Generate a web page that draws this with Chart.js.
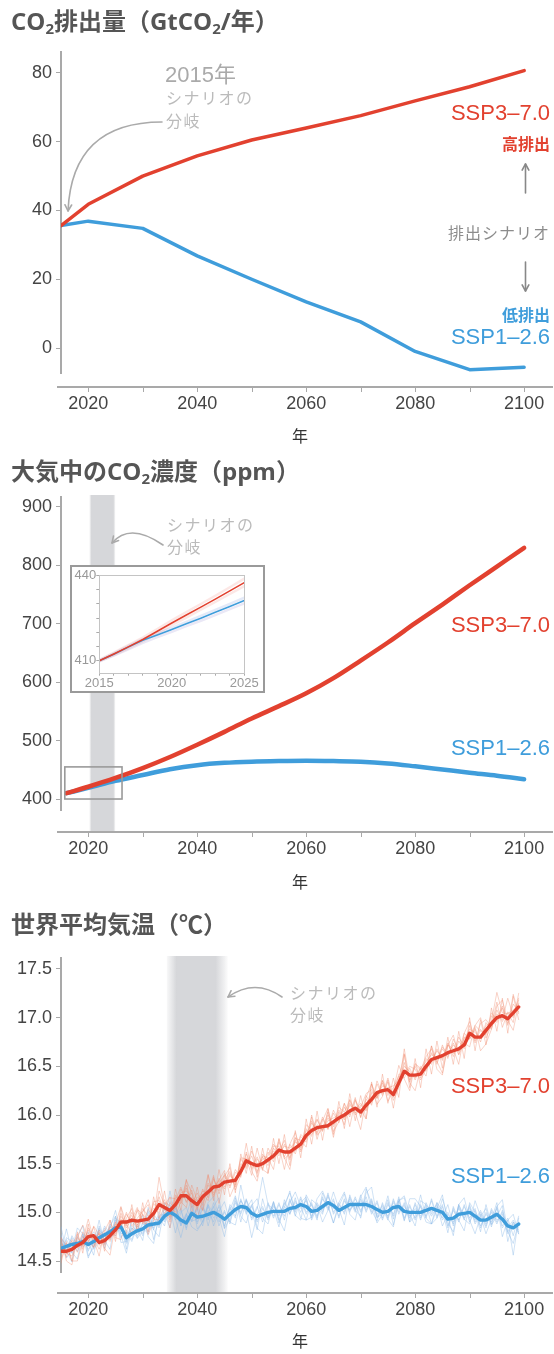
<!DOCTYPE html>
<html><head><meta charset="utf-8">
<script src="https://cdn.jsdelivr.net/npm/chart.js@4.4.1/dist/chart.umd.min.js"></script>
<style>
html,body{margin:0;padding:0;background:#fff;}
#wrap{position:relative;width:554px;height:1354px;overflow:hidden;background:#fff;}
canvas.main{position:absolute;left:0;}
.t{position:absolute;white-space:nowrap;line-height:1;font-family:"Liberation Sans","Noto Sans CJK JP",sans-serif;}
.jp{font-family:"Noto Sans CJK JP",sans-serif;}
.title{font-family:"Open Sans","Noto Sans CJK JP",sans-serif;font-weight:700;font-size:24px;color:#555;left:11px;}
.title sub{font-size:15px;line-height:0;vertical-align:-4px;}
#insetBox{position:absolute;left:70px;top:565px;width:191px;height:124px;border:2px solid #9a9a9a;background:#fff;}
#insetBox canvas{display:block;}
</style>
</head><body>
<div id="wrap">
  <canvas id="c1" class="main" width="554" height="450" style="top:0;width:554px;height:450px"></canvas>
  <canvas id="c2" class="main" width="554" height="450" style="top:450px;width:554px;height:450px"></canvas>
  <canvas id="c3" class="main" width="554" height="454" style="top:900px;width:554px;height:454px"></canvas>
  <div id="insetBox"><canvas id="c2i" width="191" height="124" style="width:191px;height:124px"></canvas></div>

  <div class="t title" style="top:9px">CO<sub>2</sub>排出量（GtCO<sub>2</sub>/年）</div>
  <div class="t title" style="top:459px">大気中のCO<sub>2</sub>濃度（ppm）</div>
  <div class="t title" style="top:912px">世界平均気温（℃）</div>

  <div class="t" style="left:165px;top:64px;font-size:22px;color:#aaa">2015年</div>
  <div class="t jp" style="left:166px;top:89px;font-size:16px;color:#bbb;letter-spacing:1.5px">シナリオの</div>
  <div class="t jp" style="left:166px;top:112px;font-size:16px;color:#bbb;letter-spacing:1.5px">分岐</div>
  <div class="t" style="right:4px;top:102px;font-size:22px;color:#e2412f">SSP3–7.0</div>
  <div class="t jp" style="right:4px;top:135px;font-size:16px;font-weight:700;color:#e2412f">高排出</div>
  <div class="t jp" style="right:4px;top:224px;font-size:16px;color:#8c8c8c;letter-spacing:1px">排出シナリオ</div>
  <div class="t jp" style="right:4px;top:306px;font-size:16px;font-weight:700;color:#3f9ddb">低排出</div>
  <div class="t" style="right:4px;top:326px;font-size:22px;color:#3f9ddb">SSP1–2.6</div>
  <div class="t jp" style="left:292px;top:427px;font-size:16px;color:#333">年</div>

  <div class="t jp" style="left:167px;top:516px;font-size:16px;color:#bbb;letter-spacing:1.5px">シナリオの</div>
  <div class="t jp" style="left:167px;top:538px;font-size:16px;color:#bbb;letter-spacing:1.5px">分岐</div>
  <div class="t" style="right:4px;top:614px;font-size:22px;color:#e2412f">SSP3–7.0</div>
  <div class="t" style="right:4px;top:737px;font-size:22px;color:#3f9ddb">SSP1–2.6</div>
  <div class="t jp" style="left:292px;top:873px;font-size:16px;color:#333">年</div>

  <div class="t jp" style="left:290px;top:984px;font-size:16px;color:#bbb;letter-spacing:1.5px">シナリオの</div>
  <div class="t jp" style="left:290px;top:1006px;font-size:16px;color:#bbb;letter-spacing:1.5px">分岐</div>
  <div class="t" style="right:4px;top:1075px;font-size:22px;color:#e2412f">SSP3–7.0</div>
  <div class="t" style="right:4px;top:1165px;font-size:22px;color:#3f9ddb">SSP1–2.6</div>
  <div class="t jp" style="left:292px;top:1332px;font-size:16px;color:#333">年</div>
</div>
<script>
// ---------- shared axis data ----------
const X_TICKS = [2020, 2030, 2040, 2050, 2060, 2070, 2080, 2090, 2100];
const X_LABELS = [2020, 2040, 2060, 2080, 2100];

// ---------- Panel 1: CO2 emissions (GtCO2/yr) ----------
const EMIS_YEARS = [2015, 2020, 2030, 2040, 2050, 2060, 2070, 2080, 2090, 2100];
const EMIS_SSP370 = [35.6, 41.8, 50.0, 55.9, 60.5, 64.0, 67.6, 71.9, 76.0, 80.7];
const EMIS_SSP126 = [35.6, 36.9, 34.8, 26.8, 20.0, 13.4, 7.6, -1.0, -6.3, -5.6];
const EMIS_Y_TICKS = [0, 20, 40, 60, 80];

// ---------- Panel 2: CO2 concentration (ppm) ----------
const CONC_YEARS = [2016, 2020, 2025, 2030, 2035, 2040, 2045, 2050, 2055, 2060, 2065, 2070, 2075, 2080, 2085, 2090, 2095, 2100];
const CONC_SSP370 = [410, 421, 436, 453, 472, 493, 515, 538, 559, 581, 607, 637, 668, 701, 733, 766, 798, 830];
const CONC_SSP126 = [410, 419, 431, 441, 451, 458, 462, 464, 465, 465.5, 465, 464, 461, 456, 450.5, 445, 440, 434];
const CONC_Y_TICKS = [400, 500, 600, 700, 800, 900];

// inset 2015-2025
const INSET_YEARS = [2015, 2016, 2017, 2018, 2019, 2020, 2021, 2022, 2023, 2024, 2025];
const INSET_SSP370 = [410.0, 412.4, 414.9, 417.5, 420.4, 423.3, 426.1, 428.9, 431.7, 434.6, 437.5];
const INSET_SSP126 = [410.0, 412.3, 414.8, 417.2, 419.1, 421.0, 423.0, 425.0, 427.1, 429.1, 431.2];
const INSET_SSP370_HI = [410.3, 412.9, 415.5, 418.2, 421.2, 424.2, 427.1, 430.0, 432.9, 435.9, 438.9];
const INSET_SSP370_LO = [409.8, 412.0, 414.4, 416.9, 419.7, 422.5, 425.2, 428.0, 430.7, 433.5, 436.3];
const INSET_SSP126_HI = [410.2, 412.6, 415.2, 417.6, 419.6, 421.6, 423.7, 425.8, 427.9, 430.0, 432.2];
const INSET_SSP126_LO = [409.8, 411.8, 414.0, 416.3, 418.3, 420.2, 422.2, 424.1, 426.1, 428.2, 430.2];
const INSET_Y_TICKS = [410, 415, 420, 425, 430, 435, 440];
const INSET_Y_LABELS = [410, 440];
const INSET_X_TICKS = [2015, 2016, 2017, 2018, 2019, 2020, 2021, 2022, 2023, 2024, 2025];
const INSET_X_LABELS = [2015, 2020, 2025];

// ---------- Panel 3: global mean temperature (°C) ----------
const TEMP_YEARS = [2015,2016,2017,2018,2019,2020,2021,2022,2023,2024,2025,2026,2027,2028,2029,2030,2031,2032,2033,2034,
2035,2036,2037,2038,2039,2040,2041,2042,2043,2044,2045,2046,2047,2048,2049,2050,2051,2052,2053,2054,
2055,2056,2057,2058,2059,2060,2061,2062,2063,2064,2065,2066,2067,2068,2069,2070,2071,2072,2073,2074,
2075,2076,2077,2078,2079,2080,2081,2082,2083,2084,2085,2086,2087,2088,2089,2090,2091,2092,2093,2094,
2095,2096,2097,2098,2099];
const TEMP_SSP370 = [14.60,14.60,14.62,14.66,14.69,14.75,14.76,14.69,14.71,14.76,
14.82,14.90,14.90,14.92,14.91,14.92,14.93,14.99,15.08,15.05,
15.02,15.08,15.17,15.17,15.12,15.08,15.16,15.21,15.26,15.27,
15.31,15.32,15.33,15.42,15.53,15.50,15.48,15.50,15.54,15.58,
15.64,15.62,15.62,15.66,15.70,15.79,15.84,15.87,15.88,15.89,
15.93,15.97,16.00,16.04,16.07,16.03,16.10,16.16,16.23,16.25,
16.26,16.21,16.33,16.45,16.41,16.41,16.42,16.50,16.57,16.59,
16.61,16.64,16.66,16.68,16.72,16.84,16.80,16.80,16.87,16.94,
17.00,17.02,16.99,17.05,17.11];
const TEMP_SSP126 = [14.63,14.65,14.67,14.68,14.70,14.67,14.70,14.74,14.77,14.80,
14.84,14.85,14.74,14.78,14.81,14.83,14.87,14.88,14.89,14.96,
15.00,14.97,14.92,14.89,14.99,14.95,14.96,14.98,15.00,14.97,
14.93,14.98,15.03,15.06,15.05,14.99,14.96,14.98,15.00,15.01,
15.01,15.01,15.04,15.05,15.08,15.06,15.01,15.02,15.06,15.10,
15.07,15.02,15.05,15.08,15.08,15.08,15.08,15.06,15.03,15.00,
15.01,15.05,15.06,15.01,15.00,15.00,15.00,15.02,15.04,15.02,
15.00,14.93,14.94,14.98,14.99,15.00,14.96,14.92,14.92,14.95,
14.98,14.93,14.86,14.84,14.88];
// individual model runs (thin lines)
const TEMP_SSP370_RUN1 = [14.55,14.68,14.60,14.74,14.65,14.82,14.71,14.78,14.66,14.85,
14.78,14.96,14.86,15.00,14.87,14.98,14.90,15.09,15.02,15.13,
14.96,15.16,15.12,15.25,15.05,15.16,15.10,15.30,15.20,15.35,
15.26,15.40,15.28,15.50,15.47,15.58,15.42,15.57,15.48,15.66,
15.58,15.70,15.56,15.74,15.64,15.86,15.78,15.95,15.83,15.97,
15.88,16.05,15.95,16.12,16.02,16.10,16.05,16.24,16.18,16.33,
16.20,16.28,16.40,16.38,16.48,16.36,16.50,16.45,16.64,16.54,
16.68,16.60,16.74,16.62,16.80,16.78,16.88,16.75,16.95,16.88,
17.08,16.96,17.06,17.00,17.18];
const TEMP_SSP370_RUN2 = [14.66,14.54,14.72,14.63,14.80,14.70,14.85,14.66,14.79,14.72,
14.90,14.84,14.98,14.89,15.02,14.88,15.03,14.95,15.16,14.98,
15.10,15.03,15.24,15.11,15.20,15.02,15.24,15.15,15.34,15.22,
15.40,15.27,15.44,15.36,15.62,15.44,15.55,15.45,15.62,15.52,
15.72,15.57,15.70,15.60,15.78,15.72,15.92,15.82,15.96,15.85,
16.02,15.92,16.08,15.98,16.16,15.97,16.20,16.10,16.32,16.20,
16.34,16.15,16.28,16.68,16.36,16.50,16.38,16.58,16.52,16.68,
16.56,16.74,16.60,16.76,16.68,16.92,16.74,16.88,16.82,17.02,
16.95,17.10,16.94,17.14,17.06];
const TEMP_SSP370_RUN3 = [14.62,14.58,14.55,14.70,14.66,14.84,14.74,14.62,14.76,14.70,
14.86,14.93,14.88,14.97,14.85,15.04,14.96,15.04,15.00,15.10,
15.07,15.00,15.20,15.22,15.15,15.12,15.22,15.18,15.25,15.33,
15.24,15.38,15.30,15.47,15.56,15.52,15.40,15.60,15.51,15.63,
15.60,15.68,15.66,15.72,15.69,15.84,15.80,15.90,15.85,15.94,
15.97,16.00,15.97,16.10,16.05,16.12,16.04,16.22,16.20,16.30,
16.28,16.30,16.36,16.50,16.45,16.38,16.48,16.55,16.62,16.57,
16.70,16.62,16.72,16.65,16.78,16.88,16.85,16.78,16.92,16.96,
17.26,17.05,17.04,17.08,17.14];
const TEMP_SSP370_RUN4 = [14.52,14.66,14.70,14.59,14.75,14.68,14.86,14.77,14.68,14.83,
14.76,14.99,14.84,14.93,15.05,14.90,14.87,15.11,15.12,15.02,
15.15,15.14,15.09,15.28,15.08,15.20,15.07,15.28,15.18,15.30,
15.38,15.25,15.41,15.38,15.60,15.46,15.57,15.43,15.66,15.55,
15.75,15.55,15.60,15.63,15.80,15.75,15.94,15.80,15.98,15.86,
16.05,15.94,16.12,16.00,16.18,15.98,16.16,16.12,16.35,16.22,
16.38,16.18,16.42,16.42,16.50,16.47,16.36,16.47,16.55,16.66,
16.58,16.72,16.63,16.80,16.70,16.80,16.92,16.86,16.84,17.05,
16.98,17.12,16.92,17.24,17.04];
const TEMP_SSP370_RUN5 = [14.70,14.57,14.64,14.78,14.62,14.79,14.70,14.74,14.82,14.75,
14.88,14.85,15.00,14.86,14.94,15.01,15.08,14.93,15.36,15.06,
14.95,15.12,15.26,15.10,15.23,15.04,15.19,15.12,15.36,15.19,
15.33,15.42,15.26,15.55,15.45,15.63,15.50,15.54,15.58,15.70,
15.62,15.74,15.54,15.77,15.66,15.90,15.85,15.96,15.84,16.00,
15.90,16.08,16.03,16.15,16.00,16.08,16.22,16.26,16.17,16.36,
16.22,16.25,16.30,16.54,16.34,16.52,16.46,16.60,16.68,16.52,
16.72,16.58,16.78,16.66,16.84,16.96,16.76,16.94,16.98,16.90,
17.04,16.98,17.20,17.02,17.20];
const TEMP_SSP370_RUN6 = [14.48,14.70,14.50,14.80,14.58,14.88,14.64,14.82,14.60,14.92,
14.70,15.05,14.78,15.08,14.80,15.10,14.80,15.16,14.94,15.22,
14.90,15.24,15.02,15.34,14.98,15.26,15.02,15.38,15.12,15.44,
15.18,15.50,15.20,15.60,15.40,15.68,15.36,15.66,15.40,15.76,
15.50,15.80,15.48,15.84,15.56,15.96,15.70,16.04,15.74,16.06,
15.80,16.14,15.86,16.22,15.94,16.20,15.96,16.34,16.08,16.42,
16.12,16.38,16.18,16.62,16.28,16.58,16.28,16.68,16.42,16.76,
16.48,16.80,16.52,16.86,16.58,17.00,16.66,16.98,16.72,17.10,
16.86,17.20,16.84,17.22,16.98];
const TEMP_SSP370_RUN7 = [14.74,14.50,14.46,14.74,14.87,14.71,14.64,14.79,14.63,14.56,
14.88,15.06,14.88,14.78,15.03,14.98,14.77,14.91,15.22,15.07,
14.84,15.18,15.11,15.05,15.28,15.12,15.02,15.19,15.38,15.09,
15.37,15.46,15.23,15.38,15.71,15.42,15.32,15.58,15.56,15.44,
15.76,15.56,15.44,15.76,15.74,15.67,16.00,15.79,15.86,16.03,
15.77,16.03,15.90,16.16,16.03,15.85,16.18,16.32,16.11,16.19,
16.36,16.07,16.37,16.63,16.33,16.25,16.48,16.48,16.71,16.47,
16.41,16.72,16.68,16.52,16.84,16.78,16.90,16.66,16.73,16.88,
17.12,17.18,16.97,16.87,17.15];
const TEMP_SSP370_RUN8 = [14.74,14.66,14.50,14.50,14.71,14.93,14.72,14.55,14.81,14.92,
14.74,14.72,14.94,15.04,14.81,15.00,15.13,14.93,14.92,15.07,
15.16,14.96,15.11,15.33,15.20,14.94,15.14,15.39,15.16,15.33,
15.43,15.16,15.29,15.56,15.55,15.38,15.66,15.44,15.40,15.68,
15.68,15.44,15.70,15.82,15.62,15.77,15.98,15.75,15.94,16.07,
15.83,15.93,16.12,15.88,16.15,16.05,15.96,16.32,16.17,16.35,
16.14,16.25,16.51,16.37,16.25,16.53,16.48,16.40,16.71,16.55,
16.43,16.72,16.82,16.62,16.74,16.70,16.92,17.00,16.79,16.92,
17.16,16.90,17.05,16.95,17.25];
const TEMP_SSP126_RUN1 = [14.58,14.72,14.62,14.75,14.66,14.74,14.64,14.80,14.72,14.86,
14.80,14.88,14.70,14.84,14.76,14.90,14.80,14.95,14.84,15.04,
14.94,15.06,14.88,14.96,14.92,15.04,14.90,15.06,14.94,15.06,
14.86,15.06,14.96,15.14,14.98,15.08,14.90,15.04,14.94,15.08,
14.96,15.10,14.98,15.12,15.00,15.14,14.94,15.10,15.00,15.18,
15.00,15.10,14.98,15.16,15.02,15.14,15.02,15.12,14.96,15.08,
14.94,15.12,15.00,15.08,14.94,15.08,14.92,15.10,14.98,15.10,
14.92,15.00,14.88,15.06,14.92,15.08,14.90,15.00,14.86,15.02,
14.90,15.00,14.80,14.90,14.82];
const TEMP_SSP126_RUN2 = [14.85,14.60,14.74,14.64,14.78,14.60,14.76,14.68,14.84,14.74,
14.92,14.74,14.82,14.72,14.88,14.78,14.92,14.84,15.00,14.90,
15.08,14.92,15.02,14.84,15.06,14.88,15.04,14.92,15.10,14.90,
15.00,14.90,15.12,15.00,15.12,14.92,15.04,15.36,15.08,14.94,
15.08,14.96,15.12,15.00,15.16,15.00,15.08,14.96,15.14,15.04,
15.14,14.94,15.12,15.02,15.16,15.00,15.16,14.98,15.10,14.92,
15.08,14.98,15.14,14.94,15.08,14.92,15.08,14.96,15.12,14.94,
15.06,14.86,15.02,14.92,15.06,14.94,15.04,14.84,15.00,14.88,
15.06,14.86,14.94,14.76,14.96];
const TEMP_SSP126_RUN3 = [14.66,14.68,14.58,14.72,14.64,14.70,14.80,14.72,14.70,14.88,
14.82,14.86,14.68,14.80,14.74,14.88,14.84,14.92,14.86,15.10,
14.98,15.04,14.90,14.94,14.96,15.02,14.86,15.08,14.98,15.02,
14.84,15.08,15.00,15.12,15.00,15.06,14.92,15.00,14.96,15.10,
14.92,15.06,15.00,15.10,15.04,15.12,14.96,15.08,15.02,15.16,
15.04,15.06,15.00,15.14,15.04,15.12,15.04,15.10,14.98,15.06,
14.96,15.10,15.02,15.06,14.96,15.04,14.96,15.08,15.00,15.08,
14.86,14.98,14.90,15.04,14.94,15.06,14.88,14.98,14.84,15.04,
14.92,14.98,14.78,14.88,14.84];
const TEMP_SSP126_RUN4 = [14.55,14.74,14.70,14.60,14.76,14.62,14.68,14.82,14.76,14.72,
14.96,14.78,14.80,14.70,14.86,14.76,14.94,14.82,14.96,14.92,
15.22,14.96,15.04,14.82,15.08,14.90,15.06,14.94,15.06,14.86,
15.02,14.88,15.10,14.98,15.14,14.94,15.06,14.90,15.10,14.96,
15.10,14.92,15.14,14.96,15.14,14.98,15.10,14.94,15.16,15.02,
15.12,14.96,15.14,15.00,15.14,15.02,15.12,15.00,15.12,14.94,
15.10,14.96,15.16,14.92,15.06,14.94,15.06,14.94,15.14,14.96,
15.08,14.84,15.04,14.90,15.08,14.90,15.02,14.86,14.98,14.90,
15.04,14.84,14.92,14.56,14.94];
const TEMP_SSP126_RUN5 = [14.70,14.58,14.76,14.66,14.72,14.80,14.62,14.70,14.86,14.78,
14.76,14.90,14.72,14.86,14.80,14.84,14.78,14.98,14.90,15.00,
14.92,15.08,14.86,14.98,14.90,15.06,14.94,15.02,14.90,15.08,
14.92,15.04,14.94,15.28,15.02,14.74,14.98,15.06,14.92,15.06,
14.98,15.08,15.20,15.02,15.10,15.16,14.92,15.06,14.98,15.20,
14.98,15.08,15.02,15.12,15.00,15.18,15.00,15.14,14.94,15.04,
14.92,15.14,14.98,15.10,14.90,15.10,14.94,15.06,14.96,15.06,
14.94,15.08,14.86,15.08,14.96,15.04,14.92,15.02,14.88,15.00,
14.88,15.02,14.84,14.92,14.80];
const TEMP_SSP126_RUN6 = [14.77,14.53,14.61,14.84,14.78,14.53,14.68,14.92,14.67,14.86,
14.96,14.69,14.70,14.92,14.83,14.71,15.05,14.82,14.75,15.06,
15.04,14.79,15.00,15.05,14.91,14.93,15.10,14.86,15.06,15.15,
14.83,14.94,15.15,14.90,15.13,15.01,14.82,15.14,14.94,15.11,
14.89,15.05,15.22,14.97,14.92,15.18,15.07,14.92,15.20,15.06,
14.89,15.10,15.21,15.02,15.10,14.94,15.20,15.26,14.95,14.98,
15.17,14.93,15.12,14.91,15.14,15.14,15.06,14.90,14.88,15.04,
15.18,14.89,14.80,15.08,15.15,14.92,14.78,14.96,15.04,14.85,
15.06,15.13,14.80,14.68,14.90];
const TEMP_SSP126_RUN7 = [14.59,14.83,14.59,14.52,14.78,14.69,14.56,14.86,14.71,14.62,
14.94,14.89,14.62,14.94,14.73,14.81,15.01,14.72,14.95,14.86,
15.12,14.93,14.74,14.97,15.15,14.83,14.90,15.08,14.86,15.01,
15.11,14.90,14.87,15.12,15.03,15.13,14.84,14.78,15.08,15.03,
14.85,15.13,14.98,15.15,14.94,14.92,14.95,15.14,15.22,15.08,
14.89,15.06,15.19,14.98,14.92,15.16,15.26,15.02,14.91,15.10,
14.93,14.85,15.12,15.17,14.98,14.86,15.12,15.08,14.88,14.94,
15.14,14.95,14.76,15.08,14.93,14.88,15.12,14.96,14.78,14.93,
15.10,14.75,14.92,14.98,14.78];
const TEMP_SSP126_RUN8 = [14.75,14.61,14.49,14.76,14.86,14.55,14.64,14.84,14.63,14.84,
15.02,14.77,14.58,14.84,14.79,14.97,14.75,14.68,14.97,14.98,
14.84,15.09,14.86,14.99,14.85,14.81,14.90,15.10,15.16,14.95,
14.75,15.02,15.17,14.96,14.89,15.07,15.14,14.94,14.88,15.11,
14.93,14.81,15.10,15.21,15.06,14.92,15.13,15.08,14.90,15.02,
15.21,15.04,14.87,15.18,15.02,14.96,15.24,15.10,14.89,14.98,
15.13,14.87,15.12,15.15,14.90,14.96,15.18,14.94,14.88,15.10,
15.02,14.79,15.06,14.92,14.81,15.10,15.00,14.80,15.08,14.87,
14.96,15.07,14.70,14.90,14.78];
const TEMP_Y_TICKS = [14.5, 15.0, 15.5, 16.0, 16.5, 17.0, 17.5];

// ---------- styling ----------
const RED = '#e2412f', BLUE = '#3f9ddb';
const RED_RUN = 'rgba(240,140,110,0.38)', BLUE_RUN = 'rgba(140,185,232,0.42)';
const TICK_FONT = '"Liberation Sans", Arial, sans-serif';
const X_MIN = 2015, X_MAX = 2105.3;
const AXIS_C = '#a9a9a9';

function pts(xs, ys) { return xs.map((x, i) => ({x: x, y: ys[i]})); }
function ds(xs, ys, color, width, order, extra) {
  return Object.assign({data: pts(xs, ys), borderColor: color, borderWidth: width, pointRadius: 0,
    fill: false, order: order, tension: 0, borderJoinStyle: 'round', borderCapStyle: 'round'}, extra || {});
}

function drawArrow(ctx, p0, c, p1, color) {
  ctx.save();
  ctx.strokeStyle = color; ctx.lineWidth = 1.6; ctx.lineCap = 'round'; ctx.lineJoin = 'round';
  ctx.beginPath(); ctx.moveTo(p0[0], p0[1]);
  if (c) ctx.quadraticCurveTo(c[0], c[1], p1[0], p1[1]); else ctx.lineTo(p1[0], p1[1]);
  ctx.stroke();
  const from = c || p0;
  const ang = Math.atan2(p1[1] - from[1], p1[0] - from[0]);
  const L = 7, w = 0.5;
  ctx.beginPath();
  ctx.moveTo(p1[0] - L * Math.cos(ang - w), p1[1] - L * Math.sin(ang - w));
  ctx.lineTo(p1[0], p1[1]);
  ctx.lineTo(p1[0] - L * Math.cos(ang + w), p1[1] - L * Math.sin(ang + w));
  ctx.stroke();
  ctx.restore();
}

const deco = {
  id: 'deco',
  beforeDatasetsDraw(chart, args, o) {
    if (!o || !o.band) return;
    const {ctx, chartArea: a, scales: {x}} = chart;
    const b = o.band;
    const x0 = x.getPixelForValue(b[0]), x1 = x.getPixelForValue(b[3]);
    const s0 = x.getPixelForValue(b[1]), s1 = x.getPixelForValue(b[2]);
    const g = ctx.createLinearGradient(x0, 0, x1, 0);
    const col = 'rgba(214,215,218,', W = x1 - x0;
    g.addColorStop(0, col + '0.15)');
    g.addColorStop((s0 - x0) / W, col + '1)');
    g.addColorStop((s1 - x0) / W, col + '1)');
    g.addColorStop(1, col + '0.1)');
    ctx.save(); ctx.fillStyle = g;
    ctx.fillRect(x0, a.top - 2, W, a.bottom + o.gap - a.top + 1);
    ctx.restore();
  },
  afterDraw(chart, args, o) {
    if (!o) return;
    const {ctx, chartArea: a, scales: {x, y}} = chart;
    const ly = a.bottom + o.gap;
    ctx.save();
    ctx.strokeStyle = AXIS_C; ctx.lineWidth = 2;
    ctx.beginPath(); ctx.moveTo(a.left - 4, ly); ctx.lineTo(a.right, ly); ctx.stroke();
    ctx.lineWidth = 1;
    X_TICKS.forEach(v => {
      const px = Math.round(x.getPixelForValue(v)) + 0.5;
      ctx.beginPath(); ctx.moveTo(px, ly); ctx.lineTo(px, ly + 5); ctx.stroke();
    });
    if (o.rect) {
      const r = o.rect;
      const rx0 = x.getPixelForValue(r[0]), rx1 = x.getPixelForValue(r[1]);
      const ry0 = y.getPixelForValue(r[3]), ry1 = y.getPixelForValue(r[2]);
      ctx.strokeStyle = '#9a9a9a'; ctx.lineWidth = 1.6;
      ctx.strokeRect(rx0, ry0, rx1 - rx0, ry1 - ry0);
    }
    ctx.restore();
    (o.arrows || []).forEach(ar => drawArrow(ctx, ar.p0, ar.c, ar.p1, ar.color || '#aaa'));
  }
};

function mainChart(id, cfg) {
  const canvas = document.getElementById(id);
  const H = canvas.height;
  return new Chart(canvas, {
    type: 'line',
    data: {datasets: cfg.datasets},
    options: {
      responsive: false, animation: false, devicePixelRatio: 1,
      layout: {padding: {top: cfg.top, right: 1, left: 0, bottom: 0}},
      plugins: {legend: {display: false}, tooltip: {enabled: false}, deco: cfg.deco},
      scales: {
        x: {
          type: 'linear', min: X_MIN, max: X_MAX,
          afterFit(s) { s.height = H - cfg.bottom; s.paddingLeft = 0; s.paddingRight = 0; },
          afterBuildTicks(s) { s.ticks = X_TICKS.map(v => ({value: v})); },
          grid: {display: false, drawTicks: false}, border: {display: false},
          ticks: {padding: cfg.deco.gap + 17 - 10.8, autoSkip: false, maxRotation: 0,
            font: {family: TICK_FONT, size: 18}, color: '#444',
            callback: v => X_LABELS.includes(v) ? String(v) : ''}
        },
        y: {
          type: 'linear', min: cfg.yMin, max: cfg.yMax,
          afterFit(s) { s.width = 61; s.paddingTop = 0; s.paddingBottom = 0; },
          afterBuildTicks(s) { s.ticks = cfg.yTicks.map(v => ({value: v})); },
          grid: {drawOnChartArea: false, drawTicks: true, tickLength: 5, color: AXIS_C, lineWidth: 1},
          border: {display: true, color: AXIS_C, width: 2},
          ticks: {padding: 4, autoSkip: false, font: {family: TICK_FONT, size: 18}, color: '#444',
            callback: cfg.yFmt || (v => String(v))}
        }
      }
    },
    plugins: [deco]
  });
}

// Panel 1
mainChart('c1', {
  top: 52, bottom: 373, yMin: -7.27, yMax: 86.1, yTicks: EMIS_Y_TICKS,
  datasets: [
    ds(EMIS_YEARS, EMIS_SSP370, RED, 3.5, 0),
    ds(EMIS_YEARS, EMIS_SSP126, BLUE, 3.5, 1)
  ],
  deco: {gap: 14, arrows: [
    {p0: [162, 122], c: [72, 122], p1: [68, 211], color: '#aaa'},
    {p0: [525.5, 193], c: null, p1: [525.5, 164], color: '#888'},
    {p0: [525.5, 262], c: null, p1: [525.5, 291], color: '#888'}
  ]}
});

// Panel 2
mainChart('c2', {
  top: 47, bottom: 360, yMin: 381.2, yMax: 917.1, yTicks: CONC_Y_TICKS,
  datasets: [
    ds(CONC_YEARS, CONC_SSP370, RED, 4.5, 0, {cubicInterpolationMode: 'monotone'}),
    ds(CONC_YEARS, CONC_SSP126, BLUE, 4.5, 1, {cubicInterpolationMode: 'monotone'})
  ],
  deco: {gap: 22, band: [2020.2, 2020.6, 2024.6, 2025.0], rect: [2015.7, 2026.2, 400, 455],
    arrows: [{p0: [163, 95], c: [130, 72], p1: [112, 93], color: '#aaa'}]}
});

// Panel 3
const runDs = [];
[TEMP_SSP370_RUN1, TEMP_SSP370_RUN2, TEMP_SSP370_RUN3, TEMP_SSP370_RUN4,
 TEMP_SSP370_RUN5, TEMP_SSP370_RUN6, TEMP_SSP370_RUN7, TEMP_SSP370_RUN8]
  .forEach((r, i) => runDs.push(ds(TEMP_YEARS, r, RED_RUN, 1, 5 + i)));
[TEMP_SSP126_RUN1, TEMP_SSP126_RUN2, TEMP_SSP126_RUN3, TEMP_SSP126_RUN4,
 TEMP_SSP126_RUN5, TEMP_SSP126_RUN6, TEMP_SSP126_RUN7, TEMP_SSP126_RUN8]
  .forEach((r, i) => runDs.push(ds(TEMP_YEARS, r, BLUE_RUN, 1, 20 + i)));
mainChart('c3', {
  top: 58, bottom: 372, yMin: 14.387, yMax: 17.613, yTicks: TEMP_Y_TICKS,
  yFmt: v => v.toFixed(1),
  datasets: [
    ds(TEMP_YEARS, TEMP_SSP370, RED, 3.4, 0),
    ds(TEMP_YEARS, TEMP_SSP126, BLUE, 3.4, 1)
  ].concat(runDs),
  deco: {gap: 21, band: [2034.4, 2036.2, 2043.4, 2045.6],
    arrows: [{p0: [282, 97], c: [255, 78], p1: [228, 97], color: '#aaa'}]}
});

// Inset
const insetBox = {
  id: 'insetBox',
  afterDraw(chart) {
    const {ctx, chartArea: a} = chart;
    ctx.save(); ctx.strokeStyle = '#c4c4c4'; ctx.lineWidth = 1;
    ctx.strokeRect(Math.round(a.left) + 0.5, Math.round(a.top) + 0.5, Math.round(a.right - a.left), Math.round(a.bottom - a.top));
    ctx.restore();
  }
};
new Chart(document.getElementById('c2i'), {
  type: 'line',
  data: {datasets: [
    ds(INSET_YEARS, INSET_SSP370, RED, 1.6, 0),
    ds(INSET_YEARS, INSET_SSP126, BLUE, 1.6, 1),
    ds(INSET_YEARS, INSET_SSP370_HI, 'rgba(240,120,110,0.18)', 2.5, 3),
    ds(INSET_YEARS, INSET_SSP370_LO, 'rgba(240,120,110,0.18)', 2.5, 3),
    ds(INSET_YEARS, INSET_SSP126_HI, 'rgba(120,150,220,0.2)', 2.5, 4),
    ds(INSET_YEARS, INSET_SSP126_LO, 'rgba(150,140,210,0.2)', 2.5, 4)
  ]},
  options: {
    responsive: false, animation: false, devicePixelRatio: 1,
    layout: {padding: {top: 8, right: 18.7, left: 0, bottom: 0}},
    plugins: {legend: {display: false}, tooltip: {enabled: false}},
    scales: {
      x: {type: 'linear', min: 2015, max: 2025,
        afterFit(s) { s.height = 124 - 105.7; s.paddingLeft = 0; s.paddingRight = 0; },
        afterBuildTicks(s) { s.ticks = INSET_X_TICKS.map(v => ({value: v})); },
        grid: {drawOnChartArea: false, drawTicks: true, tickLength: 3, color: '#aaa'},
        border: {display: false},
        ticks: {padding: 0, autoSkip: false, maxRotation: 0, font: {family: TICK_FONT, size: 13}, color: '#999',
          callback: v => INSET_X_LABELS.includes(v) ? String(v) : ''}
      },
      y: {type: 'linear', min: 405.8, max: 440.2,
        afterFit(s) { s.width = 27.3; s.paddingTop = 0; s.paddingBottom = 0; },
        afterBuildTicks(s) { s.ticks = INSET_Y_TICKS.map(v => ({value: v})); },
        grid: {drawOnChartArea: false, drawTicks: true, tickLength: 3, color: '#aaa'},
        border: {display: false},
        ticks: {padding: 0, autoSkip: false, font: {family: TICK_FONT, size: 13}, color: '#999',
          callback: v => INSET_Y_LABELS.includes(v) ? String(v) : ''}
      }
    }
  },
  plugins: [insetBox]
});
</script>
</body></html>
